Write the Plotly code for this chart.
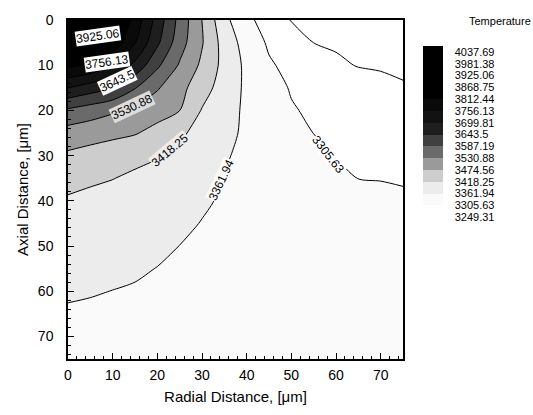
import plotly.graph_objects as go

# Grid positions (micrometres)
radial_um = [0, 5, 10, 15, 20, 25, 30, 35, 40, 45, 50, 55, 60, 65, 70, 75]
axial_um = [0, 5, 10, 15, 20, 25, 30, 35, 40, 45, 50, 55, 60, 65, 70, 75]

# Temperature, one row per axial position
t_ax00 = [4050, 3997.5, 3902.5, 3789.9, 3677.3, 3568.4, 3474.0, 3376.3, 3319.7, 3279.6, 3247, 3240, 3233, 3226, 3220, 3215]
t_ax05 = [3967.3, 3930.6, 3855.6, 3758.1, 3654.3, 3554.5, 3478.8, 3395.2, 3339.0, 3298.3, 3273.8, 3249.0, 3243, 3238, 3233, 3228]
t_ax10 = [3826.5, 3805.4, 3754.8, 3685.7, 3597.7, 3524.9, 3464.1, 3401.0, 3349.8, 3311.7, 3291.5, 3274.6, 3257.7, 3247, 3244, 3240]
t_ax15 = [3699.5, 3671.9, 3644.1, 3590.4, 3536.3, 3491.9, 3442.1, 3392.4, 3352.3, 3323.8, 3302.2, 3292.5, 3282.9, 3273.3, 3263.6, 3254]
t_ax20 = [3577.5, 3558.1, 3538.7, 3517.9, 3496.2, 3475.0, 3414.9, 3381.8, 3353.1, 3331.1, 3309.2, 3298.7, 3290.5, 3282.3, 3274.1, 3266]
t_ax25 = [3506.9, 3497.4, 3487.9, 3478.4, 3456.8, 3427.1, 3400.3, 3374.7, 3353.8, 3337.4, 3321.0, 3305.2, 3298.7, 3292.1, 3285.6, 3279]
t_ax30 = [3465.2, 3454.5, 3443.9, 3433.2, 3422.5, 3406.2, 3386.1, 3366.0, 3352.1, 3339.9, 3327.7, 3315.4, 3304.7, 3299.8, 3294.9, 3290]
t_ax35 = [3433.9, 3426.8, 3419.7, 3408.5, 3396.2, 3384.0, 3371.7, 3360.1, 3351.0, 3342.0, 3332.9, 3323.8, 3314.7, 3305.0, 3303.8, 3302]
t_ax40 = [3412.6, 3404.8, 3396.9, 3389.1, 3381.3, 3373.4, 3365.5, 3358.8, 3353.0, 3347.1, 3341.3, 3335.4, 3329.6, 3323.7, 3317.9, 3312]
t_ax45 = [3401.2, 3394.4, 3387.7, 3380.9, 3374.2, 3367.4, 3361.0, 3356.5, 3352.0, 3347.4, 3342.9, 3338.2, 3333.7, 3329.1, 3324.6, 3320]
t_ax50 = [3389.9, 3384.3, 3378.6, 3373.0, 3367.4, 3361.7, 3358.3, 3354.8, 3351.4, 3347.9, 3344.4, 3340.9, 3337.5, 3334.0, 3330.5, 3327]
t_ax55 = [3378.5, 3374.1, 3369.8, 3365.4, 3361.4, 3358.7, 3356.1, 3353.4, 3350.7, 3348.0, 3345.4, 3342.7, 3340.0, 3337.4, 3334.7, 3332]
t_ax60 = [3367.2, 3364.3, 3361.5, 3359.6, 3357.6, 3355.6, 3353.7, 3351.7, 3349.7, 3347.8, 3345.8, 3343.8, 3341.9, 3339.9, 3337.9, 3336]
t_ax65 = [3357.0, 3356.0, 3355.0, 3354.0, 3352.8, 3351.6, 3350.4, 3349.2, 3348.0, 3346.6, 3345.2, 3343.8, 3342.4, 3341.0, 3340.0, 3339]
t_ax70 = [3350, 3349.5, 3349, 3348.5, 3348, 3347.3, 3346.6, 3345.9, 3345.2, 3344.5, 3343.8, 3343.2, 3342.6, 3342.0, 3341.5, 3341]
t_ax75 = [3345, 3344.8, 3344.6, 3344.4, 3344.2, 3344, 3343.8, 3343.6, 3343.4, 3343.2, 3343.0, 3342.8, 3342.6, 3342.4, 3342.2, 3342]

temperature = [t_ax00, t_ax05, t_ax10, t_ax15, t_ax20, t_ax25, t_ax30, t_ax35,
               t_ax40, t_ax45, t_ax50, t_ax55, t_ax60, t_ax65, t_ax70, t_ax75]

# Contour levels / colour-bar labels
levels = [3249.31, 3305.63, 3361.94, 3418.25, 3474.56, 3530.88, 3587.19, 3643.5,
          3699.81, 3756.13, 3812.44, 3868.75, 3925.06, 3981.38, 4037.69]
level_labels = ["3249.31", "3305.63", "3361.94", "3418.25", "3474.56", "3530.88", "3587.19", "3643.5",
                "3699.81", "3756.13", "3812.44", "3868.75", "3925.06", "3981.38", "4037.69"]

# Band colours, lowest band (below first level) to highest
band_colors = ["#ffffff", "#ffffff", "#fafafa", "#ececec", "#cdcdcd", "#9a9a9a", "#6a6a6a", "#404040",
               "#1e1e1e", "#121212", "#0a0a0a", "#000000", "#000000", "#000000", "#000000", "#000000"]

# Line labels drawn on the plot
line_label_text = ["3925.06", "3756.13", "3643.5", "3530.88", "3418.25", "3361.94", "3305.63"]
line_label_x = [6.7, 8.7, 11.0, 14.3, 22.9, 34.4, 58.3]
line_label_y = [3.6, 9.3, 13.6, 19.2, 28.8, 35.5, 29.9]
line_label_angle = [-8, -8, -25, -25, -40, -65, 52]
line_label_bg = ["white", "white", "white", "#dcdcdc", "#ececec", "#fafafa", "white"]

FONT = "Liberation Sans, Arial, Helvetica, sans-serif"

n = len(levels)
step = (levels[-1] - levels[0]) / (n - 1)
colorscale = [[i / n, c] for i, c in enumerate(band_colors)]

L, R, T, B = 68, 130, 13, 50
W, H = 533, 415
pw = W - L - R
ph = H - T - B

contours_fill = dict(start=levels[0], end=levels[-1], size=step, coloring="fill", showlines=False)
contours_line = dict(start=levels[0], end=levels[-1], size=step, coloring="none", showlines=True)

fig = go.Figure()
fig.add_trace(go.Contour(
    x=radial_um, y=axial_um, z=temperature,
    autocontour=False,
    contours=contours_fill,
    colorscale=colorscale,
    line=dict(width=0, smoothing=0.8),
    colorbar=dict(
        x=(423 - L) / pw, xanchor="left", xpad=0,
        y=(H - B - 40) / ph, yanchor="top", ypad=0,
        len=177, lenmode="pixels", thickness=20, thicknessmode="pixels",
        tickvals=levels, ticktext=level_labels,
        ticks="outside", ticklen=10, tickcolor="rgba(0,0,0,0)",
        tickfont=dict(family=FONT, size=11, color="black"),
        outlinewidth=0,
    ),
    hoverinfo="skip",
))
fig.add_trace(go.Contour(
    x=radial_um, y=axial_um, z=temperature,
    autocontour=False,
    contours=contours_line,
    showscale=False,
    line=dict(color="black", width=1, smoothing=0.8),
    hoverinfo="skip",
))

for txt, xx, yy, ang, bg in zip(line_label_text, line_label_x, line_label_y, line_label_angle, line_label_bg):
    fig.add_annotation(x=xx, y=yy, xref="x", yref="y", text=txt, showarrow=False,
                       textangle=ang, bgcolor=bg, borderpad=0,
                       font=dict(family=FONT, size=12, color="black"))

fig.add_annotation(x=(500 - L) / pw, y=(H - B - 14) / ph, xref="paper", yref="paper",
                   xanchor="center", yanchor="middle",
                   text="Temperature", showarrow=False,
                   font=dict(family=FONT, size=11, color="black"))

axis_common = dict(
    showgrid=False, zeroline=False, showline=True, linecolor="black", linewidth=1.5,
    mirror=True, ticks="inside", ticklen=6, tickwidth=1, tickcolor="black",
    minor=dict(ticks="inside", dtick=2, ticklen=3, tickcolor="black", tickwidth=1),
    dtick=10, tick0=0,
    tickfont=dict(family=FONT, size=14, color="black"),
)

fig.update_xaxes(range=[0, 75], ticklabelstandoff=2,
                 title=dict(text="Radial Distance, [μm]",
                            font=dict(family=FONT, size=15, color="black"), standoff=10),
                 **axis_common)
fig.update_yaxes(range=[75, 0], ticklabelstandoff=10,
                 title=dict(text="Axial Distance, [μm]",
                            font=dict(family=FONT, size=15, color="black"), standoff=6),
                 **axis_common)

fig.update_layout(
    width=W, height=H,
    margin=dict(l=L, r=R, t=T, b=B),
    paper_bgcolor="white", plot_bgcolor="white",
    font=dict(family=FONT, color="black"),
    showlegend=False,
)

fig.write_html("out.html")
